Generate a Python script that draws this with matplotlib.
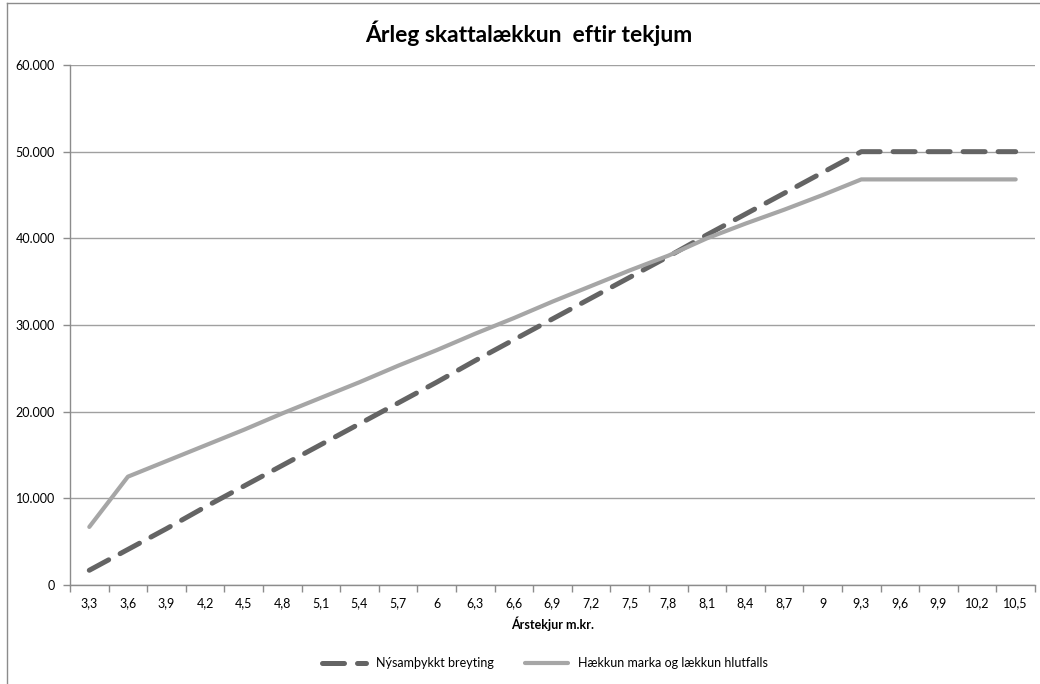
import matplotlib.pyplot as plt
from matplotlib.lines import Line2D

# Data
tekjur = ['3,3', '3,6', '3,9', '4,2', '4,5', '4,8', '5,1', '5,4', '5,7', '6',
          '6,3', '6,6', '6,9', '7,2', '7,5', '7,8', '8,1', '8,4', '8,7', '9',
          '9,3', '9,6', '9,9', '10,2', '10,5']
nysamthykkt = [1700, 4100, 6500, 9000, 11400, 13800, 16200, 18600, 21000, 23400,
               25900, 28300, 30700, 33100, 35500, 37900, 40400, 42800, 45200, 47600,
               50000, 50000, 50000, 50000, 50000]
haekkun = [6700, 12500, 14300, 16100, 17900, 19800, 21600, 23400, 25300, 27100,
           29000, 30800, 32700, 34500, 36300, 38000, 40000, 41700, 43300, 45000,
           46800, 46800, 46800, 46800, 46800]

plt.rcParams['font.family'] = ['Lato', 'DejaVu Sans']

fig = plt.figure(figsize=(10.4, 6.84), dpi=100)
ax = fig.add_axes([70/1040, 1 - 585/684, 965/1040, 520/684])

x = range(len(tekjur))
ax.plot(x, nysamthykkt, color='#646464', lw=3.6, dashes=(4.4, 2.6),
        dash_capstyle='round', label='Nýsamþykkt breyting')
ax.plot(x, haekkun, color='#a6a6a6', lw=3.0, solid_capstyle='round',
        solid_joinstyle='round', label='Hækkun marka og lækkun hlutfalls')

ax.set_xlim(-0.5, len(tekjur) - 0.5)
ax.set_ylim(0, 60000)
yt = list(range(0, 60001, 10000))
ax.set_yticks(yt)
ax.set_yticklabels(['0'] + [f'{v // 1000}.000' for v in yt[1:]], fontsize=9)
ax.set_xticks(list(x))
ax.set_xticklabels(tekjur, fontsize=9)
ax.set_xticks([i - 0.5 for i in range(len(tekjur) + 1)], minor=True)
ax.tick_params(axis='x', which='major', length=0, pad=9)
ax.tick_params(axis='x', which='minor', length=5, color='#8c8c8c', width=1)
ax.tick_params(axis='y', length=5, color='#8c8c8c', width=1, pad=6)

ax.grid(axis='y', color='#a0a0a0', lw=1)
ax.set_axisbelow(True)
for s in ['top', 'right']:
    ax.spines[s].set_visible(False)
for s in ['left', 'bottom']:
    ax.spines[s].set_color('#8c8c8c')
    ax.spines[s].set_linewidth(1)

ax.set_xlabel('Árstekjur m.kr.', fontsize=9, fontweight='bold', labelpad=5)
fig.text(0.508, 1 - 33/684, 'Árleg skattalækkun  eftir tekjum', fontsize=16.5,
         fontweight='bold', ha='center', va='center')

ax.legend(loc='center', bbox_to_anchor=(545/1040, 1 - 663/684),
          bbox_transform=fig.transFigure, ncol=2, frameon=False, fontsize=9,
          handlelength=3.5, columnspacing=2.5)

# chart frame
fig.add_artist(Line2D([7/1040, 7/1040], [0, 1 - 3/684], color='#8c8c8c', lw=1))
fig.add_artist(Line2D([7/1040, 1], [1 - 3/684, 1 - 3/684], color='#8c8c8c', lw=1))

fig.savefig('out.png', dpi=100)
